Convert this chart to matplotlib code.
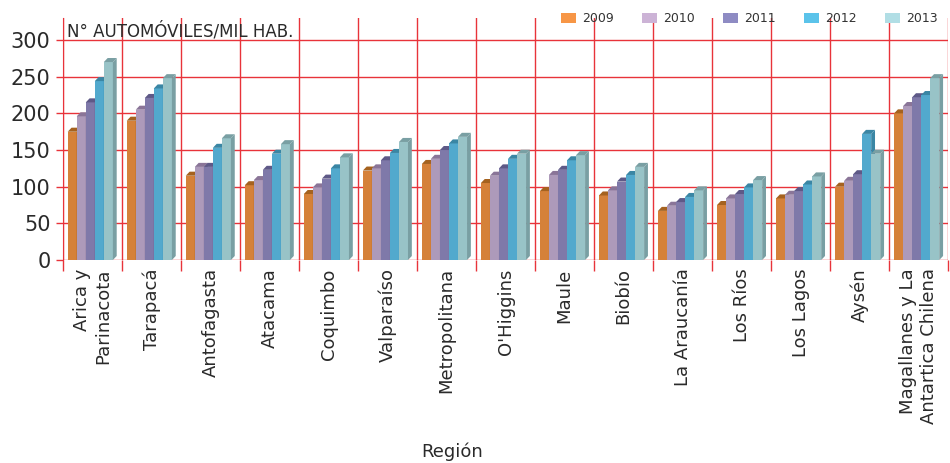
import matplotlib.pyplot as plt
from matplotlib.patches import Polygon, Patch
from matplotlib.ticker import FixedLocator

regions = ["Arica y\nParinacota", "Tarapacá", "Antofagasta", "Atacama", "Coquimbo",
           "Valparaíso", "Metropolitana", "O'Higgins", "Maule", "Biobío",
           "La Araucanía", "Los Ríos", "Los Lagos", "Aysén",
           "Magallanes y La\nAntartica Chilena"]
years = ["2009", "2010", "2011", "2012", "2013"]

v2009 = [175, 190, 115, 102, 90, 122, 131, 105, 94, 88, 67, 75, 84, 100, 200]
v2010 = [196, 205, 127, 109, 99, 125, 138, 115, 116, 95, 74, 84, 89, 108, 210]
v2011 = [215, 221, 127, 123, 111, 136, 150, 125, 123, 107, 79, 90, 94, 117, 222]
v2012 = [244, 234, 153, 145, 125, 146, 159, 138, 136, 116, 86, 99, 103, 172, 225]
v2013 = [270, 248, 166, 158, 140, 161, 168, 145, 143, 127, 95, 109, 114, 145, 248]
series = [v2009, v2010, v2011, v2012, v2013]

front = ["#D58139", "#AD9ABA", "#7F79A9", "#52A9CD", "#98C3C7"]
dark = ["#A5621F", "#8A7598", "#5E5987", "#3A86A4", "#799FA3"]
legend_col = ["#F79646", "#CCB3D6", "#8E8BC3", "#5BC3EA", "#B1DEE5"]
red = "#E8333A"
txt = "#2a2a2a"

fig = plt.figure(figsize=(9.5, 4.63), dpi=100)
ax = fig.add_axes([0.0663, 0.4384, 0.932, 0.5226])

w = 0.153
dx = 0.065
dy = 5.5
for i, vals in enumerate(series):
    xs = [k - 0.42 + i * w for k in range(len(regions))]
    ax.bar(xs, vals, width=w, align="edge", color=front[i], zorder=3 + i * 2)
    for x, v in zip(xs, vals):
        top = Polygon([(x, v), (x + w, v), (x + w + dx, v + dy), (x + dx, v + dy)],
                      closed=True, facecolor=dark[i], edgecolor="none", zorder=3 + i * 2)
        side = Polygon([(x + w, 0), (x + w + dx, dy), (x + w + dx, v + dy), (x + w, v)],
                       closed=True, facecolor=dark[i], edgecolor="none", zorder=3 + i * 2)
        ax.add_patch(top)
        ax.add_patch(side)

ax.set_xlim(-0.5, len(regions) - 0.5)
ax.set_ylim(0, 330)
ax.set_yticks([0, 50, 100, 150, 200, 250, 300])
ax.xaxis.set_major_locator(FixedLocator(range(len(regions))))
ax.xaxis.set_minor_locator(FixedLocator([k + 0.5 for k in range(-1, len(regions))]))
ax.set_xticklabels(regions, rotation=90, ha="center", va="top", multialignment="right",
                   fontsize=13, color=txt)
ax.tick_params(axis="x", which="major", length=0, pad=6)
ax.tick_params(axis="x", which="minor", length=8, color=red, width=1)
ax.tick_params(axis="y", length=5, color=red, width=1, labelsize=15, labelcolor=txt, pad=4)

ax.grid(True, axis="y", color=red, linewidth=1)
ax.grid(True, axis="x", which="minor", color=red, linewidth=1)
ax.set_axisbelow(True)
for s in ["top", "right", "bottom"]:
    ax.spines[s].set_visible(False)
ax.spines["left"].set_color(red)

ax.text(0.004, 0.985, "N° AUTOMÓVILES/MIL HAB.", transform=ax.transAxes,
        ha="left", va="top", fontsize=12, color=txt)
fig.text(0.476, 0.005, "Región", ha="center", va="bottom", fontsize=13, color=txt)

handles = [Patch(facecolor=c, edgecolor="none") for c in legend_col]
fig.legend(handles, years, loc="center left", bbox_to_anchor=(0.585, 0.959), ncol=5,
           frameon=False, fontsize=9, handlelength=1.2, handleheight=0.88,
           columnspacing=2.25, handletextpad=0.5, borderaxespad=0,
           labelcolor="#333333")

fig.savefig("out.png", dpi=100)
